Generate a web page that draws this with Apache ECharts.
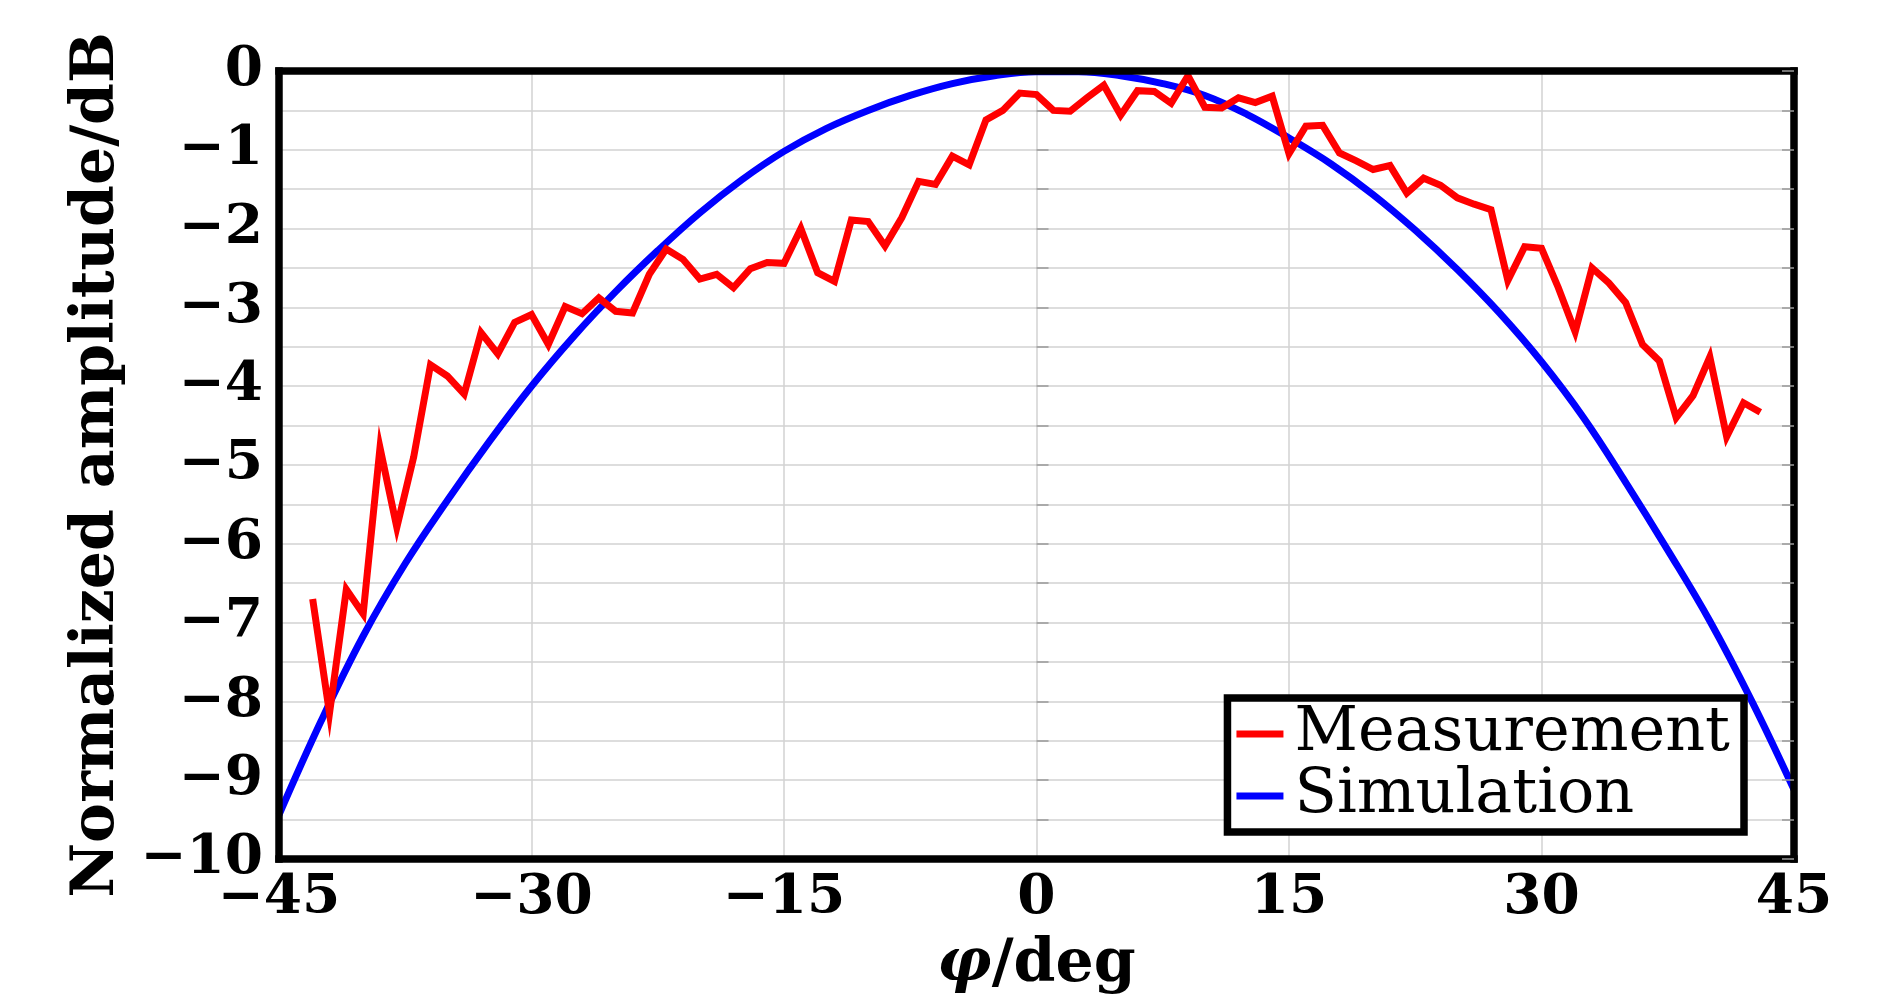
<!DOCTYPE html>
<html>
<head>
<meta charset="utf-8">
<script src="https://cdn.jsdelivr.net/npm/echarts@6/dist/echarts.min.js"></script>
<style>
html,body{margin:0;padding:0;background:#fff;}
#chart{width:1890px;height:1000px;}
</style>
</head>
<body>
<div id="chart"></div>
<script>
// Measurement: angle (deg) and normalized amplitude (dB)
const measAngle = [-43,-42,-41,-40,-39,-38,-37,-36,-35,-34,-33,-32,-31,-30,-29,-28,-27,-26,-25,-24,-23,-22,-21,-20,-19,-18,-17,-16,-15,-14,-13,-12,-11,-10,-9,-8,-7,-6,-5,-4,-3,-2,-1,0,1,2,3,4,5,6,7,8,9,10,11,12,13,14,15,16,17,18,19,20,21,22,23,24,25,26,27,28,29,30,31,32,33,34,35,36,37,38,39,40,41,42,43];
const measDb = [-6.70,-8.15,-6.58,-6.89,-4.78,-5.79,-4.90,-3.73,-3.87,-4.10,-3.32,-3.59,-3.19,-3.09,-3.47,-2.99,-3.08,-2.88,-3.05,-3.07,-2.58,-2.26,-2.39,-2.64,-2.58,-2.75,-2.51,-2.43,-2.44,-2.00,-2.56,-2.67,-1.89,-1.91,-2.22,-1.86,-1.40,-1.44,-1.08,-1.19,-0.62,-0.50,-0.28,-0.30,-0.50,-0.51,-0.34,-0.18,-0.56,-0.25,-0.26,-0.41,-0.06,-0.46,-0.47,-0.34,-0.40,-0.32,-1.05,-0.70,-0.69,-1.04,-1.14,-1.25,-1.20,-1.55,-1.36,-1.45,-1.61,-1.69,-1.76,-2.66,-2.23,-2.25,-2.75,-3.31,-2.50,-2.69,-2.94,-3.47,-3.68,-4.40,-4.12,-3.63,-4.64,-4.21,-4.33];
// Simulation: angle (deg) and normalized amplitude (dB), read every 2.5 deg
const simAngle = [-45,-42.5,-40,-37.5,-35,-32.5,-30,-27.5,-25,-22.5,-20,-17.5,-15,-12.5,-10,-7.5,-5,-2.5,0,2.5,5,7.5,10,12.5,15,17.5,20,22.5,25,27.5,30,32.5,35,37.5,40,42.5,45];
const simDb = [-9.44,-8.25,-7.17,-6.25,-5.45,-4.70,-4.00,-3.37,-2.80,-2.28,-1.80,-1.38,-1.02,-0.73,-0.50,-0.31,-0.16,-0.06,-0.01,-0.01,-0.06,-0.16,-0.31,-0.55,-0.85,-1.18,-1.57,-2.02,-2.52,-3.07,-3.69,-4.40,-5.22,-6.08,-6.98,-8.00,-9.12];
// Axis ticks
const xTicks = [-45,-30,-15,0,15,30,45];
const yTicks = [0,-1,-2,-3,-4,-5,-6,-7,-8,-9,-10];
const seriesNames = ['Measurement','Simulation'];
const xTitle = 'φ';
const xTitleUnit = '/deg';
const yTitle = 'Normalized amplitude/dB';

const meas = measAngle.map((a,i)=>[a, measDb[i]]);
const sim = simAngle.map((a,i)=>[a, simDb[i]]);
const minus = v => (v < 0 ? '\u2212' + Math.abs(v) : String(v));

const chart = echarts.init(document.getElementById('chart'), null, {renderer:'canvas'});
const lblFont = {fontFamily:'DejaVu Serif', fontWeight:'bold', fontSize:55, color:'#000'};
const frameLine = {show:true, onZero:false, lineStyle:{color:'#000', width:7.5, cap:'square'}};
chart.setOption({
  animation:false,
  backgroundColor:'#fff',
  grid:{left:279, right:96, top:71, bottom:141, containLabel:false},
  xAxis:[
    {type:'value', position:'bottom', min:-45, max:45, interval:15, z:0,
     axisLine:{show:false}, axisTick:{show:false},
     splitLine:{show:true, lineStyle:{color:'#d2d2d2', width:1.5}},
     axisLabel:Object.assign({margin:12, formatter:v=> xTicks.includes(v) ? minus(v) : ''}, lblFont),
     name: '{i|' + xTitle + '}{n|' + xTitleUnit + '}', nameLocation:'middle', nameGap:76,
     nameTextStyle:{rich:{
       i:{fontFamily:'DejaVu Serif', fontStyle:'italic', fontWeight:'bold', fontSize:60, color:'#000'},
       n:{fontFamily:'DejaVu Serif', fontWeight:'bold', fontSize:60, color:'#000'}}}
    },
    {type:'value', position:'top', min:-45, max:45, interval:15, z:5,
     axisLine:frameLine, axisTick:{show:false}, axisLabel:{show:false}, splitLine:{show:false}},
    {type:'value', position:'bottom', offset:0, min:-45, max:45, interval:15, z:5,
     axisLine:frameLine, axisTick:{show:false}, axisLabel:{show:false}, splitLine:{show:false}}
  ],
  yAxis:[
    {type:'value', position:'left', min:-10, max:0, interval:0.5, z:0,
     axisLine:{show:false},
     axisTick:{show:true, inside:true, length:12, lineStyle:{color:'#999', width:1.5}},
     splitLine:{show:true, lineStyle:{color:'#d2d2d2', width:1.5}},
     axisLabel:Object.assign({margin:16, formatter:v=> yTicks.includes(v) ? minus(v) : ''}, lblFont),
     name:yTitle, nameLocation:'middle', nameRotate:90, nameGap:152,
     nameTextStyle:{fontFamily:'DejaVu Serif', fontWeight:'bold', fontSize:60, color:'#000'}
    },
    {type:'value', position:'right', min:-10, max:0, interval:0.5, z:5,
     axisLine:frameLine,
     axisTick:{show:true, inside:true, length:12, lineStyle:{color:'#999', width:1.5}},
     axisLabel:{show:false}, splitLine:{show:false}},
    {type:'value', position:'left', offset:0, min:-10, max:0, interval:0.5, z:5,
     axisLine:frameLine, axisTick:{show:false}, axisLabel:{show:false}, splitLine:{show:false}}
  ],
  legend:{
    orient:'vertical', right:146, top:698, icon:'rect', itemWidth:47, itemHeight:7, itemGap:0,
    padding:[5,14,5,9], borderColor:'#000', borderWidth:7.5, backgroundColor:'#fff',
    selectedMode:false, z:10,
    textStyle:{fontFamily:'DejaVu Serif', fontSize:62, color:'#000', lineHeight:62, padding:[0,0,0,6]},
    data:seriesNames
  },
  series:[
    {name:seriesNames[0], type:'line', data:meas, showSymbol:false, symbol:'none', z:3,
     itemStyle:{color:'#ff0000'},
     lineStyle:{color:'#ff0000', width:7, join:'miter', miterLimit:10, cap:'butt'}},
    {name:seriesNames[1], type:'line', data:sim, showSymbol:false, symbol:'none', smooth:0.4, z:2,
     itemStyle:{color:'#0000ff'},
     lineStyle:{color:'#0000ff', width:7}}
  ]
});
</script>
</body>
</html>
